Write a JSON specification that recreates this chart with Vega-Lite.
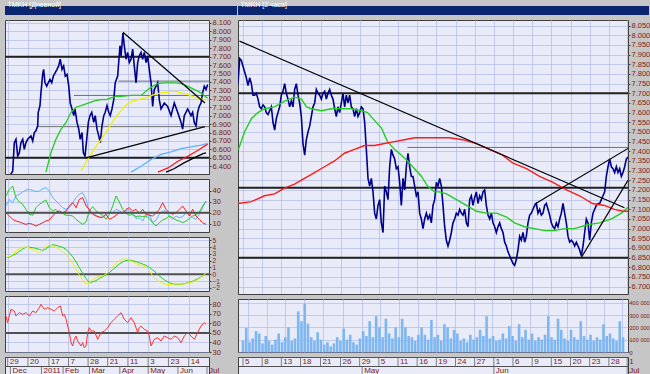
{
"$schema": "https://vega.github.io/schema/vega-lite/v6.json",
"background": "#c6c6c6",
"padding": {"left": 3, "top": 0, "right": 0, "bottom": 0},
"spacing": -1,
"config": {
 "font": "Liberation Sans",
 "view": {"fill": "#e9ecf8", "stroke": "#404040", "strokeWidth": 1},
 "axis": {"labelFont": "Liberation Sans", "labelFontSize": 7.5, "labelColor": "#802020", "gridColor": "#98a8e0", "gridDash": [1, 1], "gridOpacity": 1, "tickColor": "#404040", "tickSize": 2, "domain": false, "labelPadding": 1, "labelOverlap": false, "labelSeparation": -30, "labelBound": false, "labelFlush": false},
 "title": {"font": "Liberation Sans"}
},
"datasets": {
 "lp": [{"n":4,"v":6.3},{"n":5.7,"v":6.34},{"n":6.9,"v":6.68},{"n":8.1,"v":6.72},{"n":9.4,"v":6.52},{"n":10.6,"v":6.56},{"n":11.8,"v":6.68},{"n":13.1,"v":6.72},{"n":14.3,"v":6.6},{"n":15.5,"v":6.68},{"n":16.8,"v":6.72},{"n":19.2,"v":6.76},{"n":20.5,"v":6.7},{"n":21.7,"v":6.8},{"n":22.9,"v":6.82},{"n":24.2,"v":6.88},{"n":24.6,"v":7.04},{"n":25.9,"v":7.12},{"n":26.6,"v":7.27},{"n":27.9,"v":7.49},{"n":28.6,"v":7.55},{"n":29.6,"v":7.39},{"n":30.9,"v":7.35},{"n":32,"v":7.39},{"n":33.3,"v":7.43},{"n":34.6,"v":7.39},{"n":35.8,"v":7.47},{"n":37.2,"v":7.51},{"n":38.5,"v":7.55},{"n":39.7,"v":7.59},{"n":40.9,"v":7.67},{"n":42.2,"v":7.55},{"n":43.4,"v":7.59},{"n":44.6,"v":7.47},{"n":45.9,"v":7.49},{"n":47.2,"v":7.35},{"n":48.3,"v":7.15},{"n":49.6,"v":7.08},{"n":50.9,"v":7.0},{"n":51.8,"v":7.08},{"n":53.3,"v":6.92},{"n":54.6,"v":6.84},{"n":55.7,"v":6.72},{"n":57,"v":6.8},{"n":58,"v":6.56},{"n":59.2,"v":6.52},{"n":60.5,"v":6.72},{"n":61.7,"v":6.92},{"n":62.9,"v":7.0},{"n":64.2,"v":7.04},{"n":65.7,"v":6.92},{"n":66.8,"v":7.0},{"n":68.1,"v":6.84},{"n":69.4,"v":6.76},{"n":70.5,"v":6.68},{"n":71.8,"v":6.88},{"n":73.1,"v":7.0},{"n":74.2,"v":7.04},{"n":75.5,"v":7.12},{"n":76.8,"v":7.04},{"n":77.9,"v":7.0},{"n":79.2,"v":7.08},{"n":80.5,"v":7.19},{"n":81.6,"v":7.39},{"n":83.4,"v":7.47},{"n":85.1,"v":7.83},{"n":85.9,"v":7.71},{"n":87.3,"v":7.98},{"n":88.3,"v":7.83},{"n":89.6,"v":7.67},{"n":90.8,"v":7.75},{"n":92,"v":7.63},{"n":93.3,"v":7.67},{"n":94.5,"v":7.79},{"n":95.7,"v":7.59},{"n":97,"v":7.39},{"n":98.2,"v":7.63},{"n":99.4,"v":7.71},{"n":100.7,"v":7.75},{"n":101.9,"v":7.67},{"n":103.1,"v":7.75},{"n":104.4,"v":7.63},{"n":105.6,"v":7.71},{"n":106.8,"v":7.55},{"n":108.1,"v":7.39},{"n":109.3,"v":7.11},{"n":110.5,"v":7.31},{"n":111.8,"v":7.35},{"n":113,"v":7.39},{"n":114.2,"v":7.19},{"n":115.5,"v":7.08},{"n":117.9,"v":7.15},{"n":120.4,"v":7.11},{"n":122.9,"v":7.0},{"n":125.3,"v":7.15},{"n":127.8,"v":7.04},{"n":130.3,"v":6.92},{"n":131.5,"v":6.84},{"n":132.7,"v":7.0},{"n":135.2,"v":7.08},{"n":137.7,"v":7.0},{"n":138.9,"v":7.04},{"n":140.1,"v":6.92},{"n":141.4,"v":6.88},{"n":142.6,"v":7.04},{"n":143.8,"v":7.11},{"n":145.1,"v":7.15},{"n":146.3,"v":7.27},{"n":147.5,"v":7.35},{"n":148.8,"v":7.31},{"n":150,"v":7.37}],
 "lma": [{"s":"g","n":30.3,"v":6.33},{"s":"g","n":34,"v":6.56},{"s":"g","n":37.7,"v":6.72},{"s":"g","n":41.5,"v":6.84},{"s":"g","n":45.2,"v":6.92},{"s":"g","n":48.9,"v":7.04},{"s":"g","n":52.6,"v":7.1},{"s":"g","n":56.3,"v":7.12},{"s":"g","n":60,"v":7.14},{"s":"g","n":63.7,"v":7.16},{"s":"g","n":67.4,"v":7.18},{"s":"g","n":71.1,"v":7.19},{"s":"g","n":74.8,"v":7.19},{"s":"g","n":78.5,"v":7.21},{"s":"g","n":82.2,"v":7.23},{"s":"g","n":85.9,"v":7.23},{"s":"g","n":93.3,"v":7.24},{"s":"g","n":100.7,"v":7.24},{"s":"g","n":105.8,"v":7.31},{"s":"g","n":109.5,"v":7.35},{"s":"g","n":113.2,"v":7.38},{"s":"g","n":117.7,"v":7.39},{"s":"g","n":122.9,"v":7.39},{"s":"g","n":126.6,"v":7.39},{"s":"g","n":130.3,"v":7.38},{"s":"g","n":134,"v":7.36},{"s":"g","n":137.7,"v":7.33},{"s":"g","n":141.4,"v":7.3},{"s":"g","n":145.1,"v":7.27},{"s":"g","n":148.8,"v":7.22},{"s":"g","n":150,"v":7.21},
  {"s":"y","n":56.3,"v":6.34},{"s":"y","n":61.2,"v":6.48},{"s":"y","n":65.9,"v":6.6},{"s":"y","n":71.1,"v":6.72},{"s":"y","n":76.2,"v":6.84},{"s":"y","n":80.9,"v":6.96},{"s":"y","n":85.9,"v":7.06},{"s":"y","n":90.8,"v":7.14},{"s":"y","n":95.5,"v":7.18},{"s":"y","n":100.7,"v":7.2},{"s":"y","n":105.8,"v":7.22},{"s":"y","n":110.3,"v":7.25},{"s":"y","n":115.5,"v":7.27},{"s":"y","n":120.7,"v":7.28},{"s":"y","n":125.1,"v":7.29},{"s":"y","n":130.3,"v":7.27},{"s":"y","n":135.5,"v":7.25},{"s":"y","n":139.9,"v":7.22},{"s":"y","n":145.1,"v":7.2},{"s":"y","n":148.8,"v":7.19},{"s":"y","n":150,"v":7.19},
  {"s":"b","n":93.3,"v":6.33},{"s":"b","n":100.7,"v":6.4},{"s":"b","n":108.1,"v":6.48},{"s":"b","n":115.5,"v":6.54},{"s":"b","n":122.9,"v":6.57},{"s":"b","n":130.3,"v":6.61},{"s":"b","n":137.7,"v":6.63},{"s":"b","n":145.1,"v":6.65},{"s":"b","n":150,"v":6.67},
  {"s":"r","n":113.2,"v":6.33},{"s":"r","n":120.7,"v":6.38},{"s":"r","n":128,"v":6.46},{"s":"r","n":135.5,"v":6.52},{"s":"r","n":142.9,"v":6.59},{"s":"r","n":148.8,"v":6.65},{"s":"r","n":150,"v":6.66},
  {"s":"k","n":119.2,"v":6.33},{"s":"k","n":125.1,"v":6.37},{"s":"k","n":132.5,"v":6.44},{"s":"k","n":139.9,"v":6.5},{"s":"k","n":146.6,"v":6.55},{"s":"k","n":148.8,"v":6.56}],
 "ltl": [{"id":1,"n":87.3,"v":7.99},{"id":1,"n":148,"v":7.15},{"id":2,"n":60,"v":6.5},{"id":2,"n":148,"v":6.87}],
 "lhl": [{"a":84,"b":151,"v":7.41},{"a":51,"b":151,"v":7.24},{"a":24,"b":151,"v":6.87}],
 "lhk": [{"a":0,"b":151,"v":7.7},{"a":0,"b":151,"v":6.5}],
 "adx": [{"n":0.7,"b":26.2,"g":35.4,"r":20.1},{"n":3.2,"b":32.4,"g":41.5,"r":17.1},{"n":5.7,"b":29.3,"g":44.6,"r":14.0},{"n":8.1,"b":35.4,"g":33.9,"r":12.5},{"n":10.6,"b":37.0,"g":29.9,"r":11.6},{"n":13.1,"b":39.1,"g":27.8,"r":10.4},{"n":15.5,"b":40.9,"g":23.2,"r":9.4},{"n":18.0,"b":41.5,"g":18.6,"r":10.4},{"n":20.5,"b":40.6,"g":17.7,"r":9.4},{"n":22.9,"b":39.4,"g":24.7,"r":7.9},{"n":25.4,"b":40.0,"g":27.8,"r":9.4},{"n":27.9,"b":42.1,"g":29.9,"r":10.9},{"n":30.3,"b":43.1,"g":31.7,"r":12.5},{"n":32.8,"b":40.0,"g":24.7,"r":13.4},{"n":35.3,"b":33.9,"g":21.7,"r":17.1},{"n":37.8,"b":30.8,"g":23.2,"r":20.7},{"n":40.2,"b":27.8,"g":20.1,"r":21.7},{"n":42.7,"b":24.7,"g":19.5,"r":20.1},{"n":45.2,"b":23.2,"g":17.7,"r":21.7},{"n":47.6,"b":24.7,"g":17.7,"r":26.2},{"n":50.1,"b":29.3,"g":17.1,"r":29.3},{"n":52.6,"b":33.9,"g":14.0,"r":24.7},{"n":55.0,"b":37.0,"g":11.6,"r":32.4},{"n":57.5,"b":38.5,"g":9.4,"r":33.9},{"n":60.0,"b":32.4,"g":11.6,"r":26.2},{"n":62.4,"b":20.1,"g":21.7,"r":23.2},{"n":64.9,"b":20.1,"g":25.6,"r":18.6},{"n":67.4,"b":17.7,"g":21.7,"r":17.1},{"n":69.8,"b":15.5,"g":19.5,"r":16.2},{"n":72.3,"b":16.5,"g":17.7,"r":15.5},{"n":74.8,"b":18.6,"g":14.0,"r":18.6},{"n":77.2,"b":20.1,"g":18.6,"r":14.0},{"n":79.7,"b":20.1,"g":26.2,"r":15.5},{"n":82.2,"b":23.2,"g":35.4,"r":17.7},{"n":84.6,"b":21.7,"g":29.9,"r":20.1},{"n":87.1,"b":20.1,"g":23.2,"r":19.5},{"n":89.6,"b":21.7,"g":19.5,"r":23.2},{"n":92.0,"b":23.2,"g":17.7,"r":24.7},{"n":94.5,"b":18.6,"g":18.6,"r":21.7},{"n":97.0,"b":14.6,"g":16.5,"r":23.2},{"n":99.4,"b":15.5,"g":17.1,"r":19.5},{"n":101.9,"b":12.5,"g":16.5,"r":23.2},{"n":104.4,"b":18.6,"g":17.1,"r":18.6},{"n":106.8,"b":18.6,"g":14.6,"r":17.7},{"n":109.3,"b":10.9,"g":10.9,"r":17.1},{"n":111.8,"b":13.4,"g":7.9,"r":20.1},{"n":114.2,"b":18.6,"g":10.9,"r":23.2},{"n":116.7,"b":21.7,"g":13.4,"r":29.3},{"n":119.2,"b":21.7,"g":14.6,"r":23.2},{"n":121.6,"b":17.1,"g":17.1,"r":20.1},{"n":124.1,"b":14.0,"g":15.5,"r":18.6},{"n":126.6,"b":17.1,"g":13.4,"r":20.1},{"n":129.0,"b":15.5,"g":12.5,"r":23.2},{"n":131.5,"b":16.5,"g":10.9,"r":26.2},{"n":134.0,"b":20.1,"g":12.5,"r":21.7},{"n":136.4,"b":18.6,"g":14.6,"r":17.1},{"n":138.9,"b":15.5,"g":17.1,"r":23.2},{"n":141.4,"b":14.0,"g":17.7,"r":17.1},{"n":143.8,"b":18.6,"g":20.7,"r":14.0},{"n":146.3,"b":24.7,"g":26.2,"r":10.9},{"n":148.8,"b":30.8,"g":30.8,"r":9.4}],
 "macd": [{"n":0.7,"m":2.45,"s":2.45},{"n":3.2,"m":2.59,"s":2.5},{"n":5.7,"m":2.94,"s":2.79},{"n":8.1,"m":3.43,"s":2.99},{"n":10.6,"m":3.77,"s":3.38},{"n":13.1,"m":3.97,"s":3.72},{"n":15.5,"m":4.01,"s":3.97},{"n":18.0,"m":3.87,"s":3.97},{"n":20.5,"m":3.67,"s":3.92},{"n":22.9,"m":3.43,"s":3.82},{"n":25.4,"m":3.18,"s":3.67},{"n":27.9,"m":3.67,"s":3.48},{"n":30.3,"m":4.06,"s":3.77},{"n":32.8,"m":4.31,"s":4.11},{"n":35.3,"m":4.16,"s":4.36},{"n":37.8,"m":3.97,"s":4.26},{"n":40.2,"m":3.67,"s":4.11},{"n":42.7,"m":3.33,"s":3.97},{"n":45.2,"m":2.94,"s":3.67},{"n":47.6,"m":2.3,"s":3.18},{"n":50.1,"m":1.56,"s":2.59},{"n":52.6,"m":0.73,"s":1.81},{"n":55.0,"m":-0.1,"s":0.97},{"n":57.5,"m":-0.84,"s":0.14},{"n":60.0,"m":-1.48,"s":-0.64},{"n":62.4,"m":-1.13,"s":-1.18},{"n":64.9,"m":-0.84,"s":-1.13},{"n":67.4,"m":-0.5,"s":-0.94},{"n":69.8,"m":-0.3,"s":-0.64},{"n":72.3,"m":-0.25,"s":-0.35},{"n":74.8,"m":0.04,"s":-0.1},{"n":77.2,"m":0.49,"s":0.24},{"n":79.7,"m":1.12,"s":0.68},{"n":82.2,"m":1.61,"s":1.12},{"n":84.6,"m":1.96,"s":1.51},{"n":87.1,"m":2.21,"s":1.81},{"n":89.6,"m":2.25,"s":2.01},{"n":92.0,"m":2.11,"s":2.11},{"n":94.5,"m":1.81,"s":2.01},{"n":97.0,"m":1.56,"s":1.86},{"n":99.4,"m":1.37,"s":1.71},{"n":101.9,"m":1.22,"s":1.51},{"n":104.4,"m":1.07,"s":1.32},{"n":106.8,"m":0.58,"s":1.02},{"n":109.3,"m":-0.25,"s":0.63},{"n":111.8,"m":-0.74,"s":0.24},{"n":114.2,"m":-1.08,"s":-0.25},{"n":116.7,"m":-1.33,"s":-0.64},{"n":119.2,"m":-1.52,"s":-0.99},{"n":121.6,"m":-1.57,"s":-1.23},{"n":124.1,"m":-1.48,"s":-1.43},{"n":126.6,"m":-1.43,"s":-1.48},{"n":129.0,"m":-1.43,"s":-1.48},{"n":131.5,"m":-1.48,"s":-1.43},{"n":134.0,"m":-1.38,"s":-1.33},{"n":136.4,"m":-1.23,"s":-1.18},{"n":138.9,"m":-1.13,"s":-1.03},{"n":141.4,"m":-0.94,"s":-0.79},{"n":143.8,"m":-0.64,"s":-0.54},{"n":146.3,"m":-0.25,"s":-0.25},{"n":148.8,"m":0.24,"s":0.04}],
 "rsi": [{"n":0.7,"v":67.9},{"n":2,"v":60.9},{"n":4.4,"v":74.9},{"n":6.9,"v":73.1},{"n":8.1,"v":67.9},{"n":10.6,"v":71.4},{"n":13.1,"v":69.6},{"n":15.5,"v":71.4},{"n":18,"v":67.9},{"n":20.5,"v":73.1},{"n":22.9,"v":71.4},{"n":25.4,"v":76.6},{"n":26.6,"v":80.2},{"n":29.1,"v":74.9},{"n":31.6,"v":76.6},{"n":34,"v":74.9},{"n":36.5,"v":73.1},{"n":39,"v":76.6},{"n":41,"v":78.4},{"n":42.7,"v":67.9},{"n":43.9,"v":69.6},{"n":45.2,"v":64.4},{"n":46.4,"v":57.4},{"n":47.6,"v":50.4},{"n":48.9,"v":39.8},{"n":50.1,"v":36.3},{"n":51.3,"v":43.3},{"n":52.6,"v":46.8},{"n":53.8,"v":41.6},{"n":56.3,"v":36.3},{"n":57.5,"v":39.8},{"n":58.7,"v":34.5},{"n":60,"v":36.3},{"n":61.2,"v":50.4},{"n":62.4,"v":55.6},{"n":63.7,"v":52.1},{"n":66.1,"v":52.1},{"n":68.6,"v":43.3},{"n":71.1,"v":50.4},{"n":73.5,"v":52.1},{"n":76,"v":55.6},{"n":78.5,"v":60.9},{"n":80.9,"v":64.4},{"n":83.4,"v":67.9},{"n":85.9,"v":71.4},{"n":87.1,"v":67.9},{"n":88.3,"v":64.4},{"n":90.8,"v":60.9},{"n":93.3,"v":66.1},{"n":95.7,"v":60.9},{"n":98.2,"v":50.4},{"n":99.4,"v":55.6},{"n":100.7,"v":57.4},{"n":103.1,"v":53.9},{"n":105.6,"v":52.1},{"n":106.8,"v":46.8},{"n":108.1,"v":36.3},{"n":110.5,"v":43.3},{"n":113,"v":45.1},{"n":115.5,"v":41.6},{"n":117.9,"v":46.8},{"n":120.4,"v":45.1},{"n":122.9,"v":43.3},{"n":125.3,"v":46.8},{"n":127.8,"v":45.1},{"n":130.3,"v":39.8},{"n":132.7,"v":46.8},{"n":135.2,"v":50.4},{"n":137.7,"v":46.8},{"n":140.1,"v":43.3},{"n":142.6,"v":50.4},{"n":145.1,"v":57.4},{"n":147.5,"v":60.9},{"n":148.8,"v":59.1}],
 "ldt": [{"n":2,"r":"d","t":"29"},{"n":17,"r":"d","t":"20"},{"n":32.5,"r":"d","t":"17"},{"n":47,"r":"d","t":"7"},{"n":61.5,"r":"d","t":"28"},{"n":76,"r":"d","t":"21"},{"n":91,"r":"d","t":"11"},{"n":106,"r":"d","t":"3"},{"n":121,"r":"d","t":"23"},{"n":136,"r":"d","t":"14"},{"n":4,"r":"m","t":"Dec"},{"n":27,"r":"m","t":"2011"},{"n":43,"r":"m","t":"Feb"},{"n":62.5,"r":"m","t":"Mar"},{"n":85,"r":"m","t":"Apr"},{"n":106,"r":"m","t":"May"},{"n":128,"r":"m","t":"Jun"},{"n":149.5,"r":"m","t":"Jul"}],
 "rp": [{"k":0,"v":7.75},{"k":1,"v":7.88},{"k":2,"v":7.87},{"k":3,"v":7.84},{"k":4,"v":7.81},{"k":5,"v":7.78},{"k":6,"v":7.74},{"k":7,"v":7.78},{"k":8,"v":7.75},{"k":9,"v":7.69},{"k":10,"v":7.69},{"k":11,"v":7.7},{"k":12,"v":7.67},{"k":13,"v":7.63},{"k":14,"v":7.62},{"k":15,"v":7.64},{"k":16,"v":7.63},{"k":17,"v":7.6},{"k":18,"v":7.59},{"k":19,"v":7.61},{"k":20,"v":7.63},{"k":21,"v":7.55},{"k":22,"v":7.51},{"k":23,"v":7.57},{"k":24,"v":7.6},{"k":25,"v":7.63},{"k":26,"v":7.69},{"k":27,"v":7.71},{"k":28,"v":7.75},{"k":29,"v":7.7},{"k":30,"v":7.67},{"k":31,"v":7.63},{"k":32,"v":7.66},{"k":33,"v":7.63},{"k":34,"v":7.72},{"k":35,"v":7.75},{"k":36,"v":7.69},{"k":37,"v":7.65},{"k":38,"v":7.58},{"k":39,"v":7.44},{"k":40,"v":7.38},{"k":41,"v":7.46},{"k":42,"v":7.5},{"k":43,"v":7.53},{"k":44,"v":7.58},{"k":45,"v":7.63},{"k":46,"v":7.65},{"k":47,"v":7.72},{"k":48,"v":7.7},{"k":49,"v":7.69},{"k":50,"v":7.67},{"k":51,"v":7.7},{"k":52,"v":7.71},{"k":53,"v":7.67},{"k":54,"v":7.7},{"k":55,"v":7.72},{"k":56,"v":7.69},{"k":57,"v":7.67},{"k":58,"v":7.62},{"k":59,"v":7.58},{"k":60,"v":7.63},{"k":61,"v":7.6},{"k":62,"v":7.65},{"k":63,"v":7.7},{"k":64,"v":7.63},{"k":65,"v":7.69},{"k":66,"v":7.65},{"k":67,"v":7.69},{"k":68,"v":7.63},{"k":69,"v":7.62},{"k":70,"v":7.58},{"k":71,"v":7.62},{"k":72,"v":7.58},{"k":73,"v":7.6},{"k":74,"v":7.63},{"k":75,"v":7.62},{"k":76,"v":7.55},{"k":77,"v":7.41},{"k":78,"v":7.26},{"k":79,"v":7.22},{"k":80,"v":7.26},{"k":81,"v":7.19},{"k":82,"v":7.08},{"k":83,"v":7.05},{"k":84,"v":7.12},{"k":85,"v":7.15},{"k":86,"v":7.03},{"k":87,"v":6.98},{"k":88,"v":7.22},{"k":89,"v":7.19},{"k":90,"v":7.15},{"k":91,"v":7.32},{"k":92,"v":7.41},{"k":93,"v":7.38},{"k":94,"v":7.36},{"k":95,"v":7.31},{"k":96,"v":7.32},{"k":97,"v":7.24},{"k":98,"v":7.12},{"k":99,"v":7.26},{"k":100,"v":7.2},{"k":101,"v":7.32},{"k":102,"v":7.39},{"k":103,"v":7.32},{"k":104,"v":7.27},{"k":105,"v":7.27},{"k":106,"v":7.22},{"k":107,"v":7.17},{"k":108,"v":7.19},{"k":109,"v":7.08},{"k":110,"v":7.05},{"k":111,"v":7.0},{"k":112,"v":7.05},{"k":113,"v":7.08},{"k":114,"v":7.05},{"k":115,"v":7.07},{"k":116,"v":7.03},{"k":117,"v":7.12},{"k":118,"v":7.15},{"k":119,"v":7.24},{"k":120,"v":7.22},{"k":121,"v":7.26},{"k":122,"v":7.22},{"k":123,"v":7.12},{"k":124,"v":7.01},{"k":125,"v":6.94},{"k":126,"v":6.91},{"k":127,"v":6.94},{"k":128,"v":6.98},{"k":129,"v":7.03},{"k":130,"v":7.05},{"k":131,"v":7.08},{"k":132,"v":7.07},{"k":133,"v":7.1},{"k":134,"v":7.08},{"k":135,"v":7.07},{"k":136,"v":7.1},{"k":137,"v":7.03},{"k":138,"v":7.01},{"k":139,"v":7.15},{"k":140,"v":7.17},{"k":141,"v":7.12},{"k":142,"v":7.16},{"k":143,"v":7.19},{"k":144,"v":7.13},{"k":145,"v":7.17},{"k":146,"v":7.15},{"k":147,"v":7.19},{"k":148,"v":7.2},{"k":149,"v":7.12},{"k":150,"v":7.07},{"k":151,"v":7.05},{"k":152,"v":7.08},{"k":153,"v":7.03},{"k":154,"v":7.01},{"k":155,"v":6.98},{"k":156,"v":7.01},{"k":157,"v":7.03},{"k":158,"v":7.0},{"k":159,"v":6.98},{"k":160,"v":6.93},{"k":161,"v":6.91},{"k":162,"v":6.88},{"k":163,"v":6.86},{"k":164,"v":6.84},{"k":165,"v":6.82},{"k":166,"v":6.81},{"k":167,"v":6.84},{"k":168,"v":6.89},{"k":169,"v":6.96},{"k":170,"v":6.94},{"k":171,"v":6.98},{"k":172,"v":6.93},{"k":173,"v":6.96},{"k":174,"v":7.03},{"k":175,"v":7.07},{"k":176,"v":7.08},{"k":177,"v":7.1},{"k":178,"v":7.12},{"k":179,"v":7.13},{"k":180,"v":7.08},{"k":181,"v":7.1},{"k":182,"v":7.07},{"k":183,"v":7.08},{"k":184,"v":7.12},{"k":185,"v":7.13},{"k":186,"v":7.1},{"k":187,"v":7.07},{"k":188,"v":7.03},{"k":189,"v":7.01},{"k":190,"v":7.0},{"k":191,"v":7.03},{"k":192,"v":7.01},{"k":193,"v":7.05},{"k":194,"v":7.08},{"k":195,"v":7.13},{"k":196,"v":7.08},{"k":197,"v":7.03},{"k":198,"v":6.96},{"k":199,"v":6.93},{"k":200,"v":6.94},{"k":201,"v":6.93},{"k":202,"v":6.91},{"k":203,"v":6.93},{"k":204,"v":6.91},{"k":205,"v":6.89},{"k":206,"v":6.86},{"k":207,"v":6.91},{"k":208,"v":6.98},{"k":209,"v":7.05},{"k":210,"v":7.03},{"k":211,"v":6.94},{"k":212,"v":7.03},{"k":213,"v":7.08},{"k":214,"v":7.1},{"k":215,"v":7.12},{"k":216,"v":7.13},{"k":217,"v":7.13},{"k":218,"v":7.15},{"k":219,"v":7.17},{"k":220,"v":7.19},{"k":221,"v":7.27},{"k":222,"v":7.32},{"k":223,"v":7.36},{"k":224,"v":7.32},{"k":225,"v":7.31},{"k":226,"v":7.29},{"k":227,"v":7.32},{"k":228,"v":7.29},{"k":229,"v":7.31},{"k":230,"v":7.27},{"k":231,"v":7.29},{"k":232,"v":7.32},{"k":233,"v":7.36},{"k":234,"v":7.37}],
 "rma": [{"s":"g","k":0.3,"v":7.41},{"s":"g","k":3.9,"v":7.5},{"s":"g","k":8.1,"v":7.57},{"s":"g","k":11.9,"v":7.6},{"s":"g","k":15.9,"v":7.62},{"s":"g","k":21.9,"v":7.63},{"s":"g","k":27.9,"v":7.66},{"s":"g","k":33.9,"v":7.68},{"s":"g","k":38.1,"v":7.67},{"s":"g","k":41.1,"v":7.63},{"s":"g","k":44.1,"v":7.62},{"s":"g","k":50.1,"v":7.61},{"s":"g","k":56.1,"v":7.62},{"s":"g","k":62.1,"v":7.62},{"s":"g","k":68.1,"v":7.62},{"s":"g","k":74.1,"v":7.61},{"s":"g","k":77.7,"v":7.6},{"s":"g","k":81.9,"v":7.56},{"s":"g","k":86.1,"v":7.52},{"s":"g","k":89.7,"v":7.45},{"s":"g","k":93.9,"v":7.41},{"s":"g","k":98.1,"v":7.38},{"s":"g","k":101.7,"v":7.35},{"s":"g","k":105.9,"v":7.31},{"s":"g","k":110.1,"v":7.27},{"s":"g","k":113.7,"v":7.22},{"s":"g","k":117.9,"v":7.19},{"s":"g","k":120.9,"v":7.19},{"s":"g","k":125.1,"v":7.18},{"s":"g","k":131.1,"v":7.15},{"s":"g","k":137.1,"v":7.12},{"s":"g","k":143.1,"v":7.09},{"s":"g","k":149.1,"v":7.08},{"s":"g","k":155.1,"v":7.08},{"s":"g","k":161.1,"v":7.06},{"s":"g","k":165.9,"v":7.03},{"s":"g","k":171.9,"v":7.01},{"s":"g","k":177.9,"v":7.0},{"s":"g","k":183.9,"v":6.99},{"s":"g","k":189.9,"v":6.99},{"s":"g","k":195.9,"v":7.0},{"s":"g","k":201.9,"v":7.0},{"s":"g","k":209.7,"v":7.02},{"s":"g","k":216.9,"v":7.03},{"s":"g","k":224.1,"v":7.05},{"s":"g","k":230.1,"v":7.08},{"s":"g","k":234,"v":7.11},
  {"s":"r","k":0,"v":7.13},{"s":"r","k":8.1,"v":7.14},{"s":"r","k":15.9,"v":7.17},{"s":"r","k":21.9,"v":7.18},{"s":"r","k":27.9,"v":7.21},{"s":"r","k":33.9,"v":7.23},{"s":"r","k":39.9,"v":7.26},{"s":"r","k":45.9,"v":7.29},{"s":"r","k":51.9,"v":7.32},{"s":"r","k":57.9,"v":7.35},{"s":"r","k":63.9,"v":7.39},{"s":"r","k":69.9,"v":7.41},{"s":"r","k":75.9,"v":7.43},{"s":"r","k":81.9,"v":7.43},{"s":"r","k":87.9,"v":7.44},{"s":"r","k":93.9,"v":7.45},{"s":"r","k":99.9,"v":7.46},{"s":"r","k":105.9,"v":7.47},{"s":"r","k":111.9,"v":7.47},{"s":"r","k":119.1,"v":7.47},{"s":"r","k":126.9,"v":7.47},{"s":"r","k":134.7,"v":7.46},{"s":"r","k":143.1,"v":7.44},{"s":"r","k":150.9,"v":7.41},{"s":"r","k":158.7,"v":7.38},{"s":"r","k":164.7,"v":7.34},{"s":"r","k":173.1,"v":7.31},{"s":"r","k":180.9,"v":7.27},{"s":"r","k":188.7,"v":7.24},{"s":"r","k":197.1,"v":7.2},{"s":"r","k":204.9,"v":7.17},{"s":"r","k":212.7,"v":7.13},{"s":"r","k":219.9,"v":7.12},{"s":"r","k":225.9,"v":7.1},{"s":"r","k":230.7,"v":7.09},{"s":"r","k":234,"v":7.09}],
 "rtl": [{"id":1,"k":0.9,"v":7.97},{"id":1,"k":231.9,"v":7.108},{"id":2,"k":177.9,"v":7.126},{"id":2,"k":234,"v":7.415},{"id":3,"k":205.9,"v":6.85},{"id":3,"k":234,"v":7.25}],
 "rhl": [{"a":101.7,"b":234,"v":7.42}],
 "rhk": [{"a":0,"b":234,"v":7.7},{"a":0,"b":234,"v":7.212},{"a":0,"b":234,"v":6.85}],
 "rv": [{"k":0,"v":90},{"k":2,"v":195},{"k":4,"v":80},{"k":6,"v":110},{"k":8,"v":170},{"k":10,"v":150},{"k":12,"v":70},{"k":14,"v":130},{"k":16,"v":90},{"k":18,"v":60},{"k":20,"v":100},{"k":22,"v":150},{"k":24,"v":80},{"k":26,"v":120},{"k":28,"v":200},{"k":30,"v":90},{"k":32,"v":110},{"k":34,"v":330},{"k":36,"v":250},{"k":38,"v":390},{"k":40,"v":230},{"k":42,"v":120},{"k":44,"v":90},{"k":46,"v":160},{"k":48,"v":100},{"k":50,"v":60},{"k":52,"v":80},{"k":54,"v":45},{"k":56,"v":70},{"k":58,"v":120},{"k":60,"v":90},{"k":62,"v":190},{"k":64,"v":100},{"k":66,"v":140},{"k":68,"v":80},{"k":70,"v":60},{"k":72,"v":110},{"k":74,"v":170},{"k":76,"v":130},{"k":78,"v":250},{"k":80,"v":120},{"k":82,"v":290},{"k":84,"v":200},{"k":86,"v":120},{"k":88,"v":270},{"k":90,"v":150},{"k":92,"v":110},{"k":94,"v":200},{"k":96,"v":120},{"k":98,"v":270},{"k":100,"v":200},{"k":102,"v":130},{"k":104,"v":120},{"k":106,"v":90},{"k":108,"v":140},{"k":110,"v":200},{"k":112,"v":140},{"k":114,"v":100},{"k":116,"v":260},{"k":118,"v":120},{"k":120,"v":140},{"k":122,"v":90},{"k":124,"v":225},{"k":126,"v":200},{"k":128,"v":110},{"k":130,"v":180},{"k":132,"v":150},{"k":134,"v":90},{"k":136,"v":110},{"k":138,"v":80},{"k":140,"v":140},{"k":142,"v":100},{"k":144,"v":120},{"k":146,"v":180},{"k":148,"v":130},{"k":150,"v":290},{"k":152,"v":110},{"k":154,"v":130},{"k":156,"v":90},{"k":158,"v":100},{"k":160,"v":150},{"k":162,"v":110},{"k":164,"v":210},{"k":166,"v":130},{"k":168,"v":90},{"k":170,"v":225},{"k":172,"v":120},{"k":174,"v":180},{"k":176,"v":100},{"k":178,"v":150},{"k":180,"v":90},{"k":182,"v":120},{"k":184,"v":100},{"k":186,"v":140},{"k":188,"v":290},{"k":190,"v":120},{"k":192,"v":100},{"k":194,"v":270},{"k":196,"v":180},{"k":198,"v":110},{"k":200,"v":90},{"k":202,"v":180},{"k":204,"v":120},{"k":206,"v":100},{"k":208,"v":250},{"k":210,"v":130},{"k":212,"v":100},{"k":214,"v":140},{"k":216,"v":90},{"k":218,"v":120},{"k":220,"v":100},{"k":222,"v":225},{"k":224,"v":130},{"k":226,"v":150},{"k":228,"v":110},{"k":230,"v":90},{"k":232,"v":250},{"k":234,"v":120}],
 "rdt": [{"k":3,"r":"d","t":"5"},{"k":14.5,"r":"d","t":"8"},{"k":26,"r":"d","t":"13"},{"k":37.5,"r":"d","t":"18"},{"k":49.5,"r":"d","t":"21"},{"k":61.5,"r":"d","t":"26"},{"k":73,"r":"d","t":"29"},{"k":84.5,"r":"d","t":"5"},{"k":96,"r":"d","t":"11"},{"k":107.5,"r":"d","t":"16"},{"k":119,"r":"d","t":"19"},{"k":130.5,"r":"d","t":"24"},{"k":142,"r":"d","t":"27"},{"k":153.5,"r":"d","t":"1"},{"k":165,"r":"d","t":"6"},{"k":176.5,"r":"d","t":"9"},{"k":188,"r":"d","t":"15"},{"k":199.5,"r":"d","t":"20"},{"k":211,"r":"d","t":"23"},{"k":222.5,"r":"d","t":"28"},{"k":233.5,"r":"d","t":"1"},{"k":74.5,"r":"m","t":"May"},{"k":153.5,"r":"m","t":"Jun"},{"k":233.5,"r":"m","t":"Jul"}]
},
"hconcat": [
 {"bounds": "flush", "spacing": 5, "vconcat": [
  {"width": 232, "height": 9, "data": {"values": [{}]}, "view": {"fill": "#0b2470", "stroke": null},
   "mark": {"type": "rule", "opacity": 0}, "encoding": {},
   "title": {"text": "TMKH [Дневной]", "anchor": "start", "orient": "top", "offset": -8, "baseline": "alphabetic", "fontSize": 7, "color": "#ffffff", "fontWeight": "normal", "dx": 3}},
  {"width": 204, "height": 154, "layer": [
   {"data": {"name": "lhl"}, "mark": {"type": "rule", "color": "#707070", "strokeWidth": 1},
    "encoding": {"x": {"field": "a", "type": "quantitative", "scale": {"domain": [0, 151], "nice": false, "zero": false}, "title": null, "axis": {"values": [2,17,32.5,47,61.5,76,91,106,121,136], "labels": false, "ticks": false, "domain": false, "grid": true}}, "x2": {"field": "b"},
     "y": {"field": "v", "type": "quantitative", "scale": {"domain": [6.308, 8.135], "nice": false, "zero": false}, "title": null, "axis": {"orient": "right", "values": [6.4,6.5,6.6,6.7,6.8,6.9,7,7.1,7.2,7.3,7.4,7.5,7.6,7.7,7.8,7.9,8,8.1], "format": ".3f", "grid": true, "labelOverlap": false, "labelSeparation": -30}}}},
   {"data": {"name": "lhk"}, "mark": {"type": "rule", "color": "#202020", "strokeWidth": 2},
    "encoding": {"x": {"field": "a", "type": "quantitative", "scale": {"domain": [0, 151], "nice": false, "zero": false}, "title": null, "axis": {"values": [2,17,32.5,47,61.5,76,91,106,121,136], "labels": false, "ticks": false, "domain": false, "grid": true}}, "x2": {"field": "b"},
     "y": {"field": "v", "type": "quantitative", "scale": {"domain": [6.308, 8.135], "nice": false, "zero": false}, "title": null, "axis": {"orient": "right", "values": [6.4,6.5,6.6,6.7,6.8,6.9,7,7.1,7.2,7.3,7.4,7.5,7.6,7.7,7.8,7.9,8,8.1], "format": ".3f", "grid": true, "labelOverlap": false, "labelSeparation": -30}}}},
   {"data": {"name": "lp"}, "mark": {"type": "line", "color": "#00008b", "strokeWidth": 1.6, "clip": true},
    "encoding": {"x": {"field": "n", "type": "quantitative", "scale": {"domain": [0, 151], "nice": false, "zero": false}, "title": null, "axis": {"values": [2,17,32.5,47,61.5,76,91,106,121,136], "labels": false, "ticks": false, "domain": false, "grid": true}},
     "y": {"field": "v", "type": "quantitative", "scale": {"domain": [6.308, 8.135], "nice": false, "zero": false}, "title": null, "axis": {"orient": "right", "values": [6.4,6.5,6.6,6.7,6.8,6.9,7,7.1,7.2,7.3,7.4,7.5,7.6,7.7,7.8,7.9,8,8.1], "format": ".3f", "grid": true, "labelOverlap": false, "labelSeparation": -30}}}},
   {"data": {"name": "lma"}, "mark": {"type": "line", "strokeWidth": 1.3, "clip": true},
    "encoding": {"x": {"field": "n", "type": "quantitative", "scale": {"domain": [0, 151], "nice": false, "zero": false}, "title": null, "axis": {"values": [2,17,32.5,47,61.5,76,91,106,121,136], "labels": false, "ticks": false, "domain": false, "grid": true}},
     "y": {"field": "v", "type": "quantitative", "scale": {"domain": [6.308, 8.135], "nice": false, "zero": false}, "title": null, "axis": {"orient": "right", "values": [6.4,6.5,6.6,6.7,6.8,6.9,7,7.1,7.2,7.3,7.4,7.5,7.6,7.7,7.8,7.9,8,8.1], "format": ".3f", "grid": true, "labelOverlap": false, "labelSeparation": -30}},
     "color": {"field": "s", "type": "nominal", "scale": {"domain": ["g","y","b","r","k"], "range": ["#22cc22","#f0f000","#5fb0ff","#ff1a1a","#000000"]}, "legend": null}}},
   {"data": {"name": "ltl"}, "mark": {"type": "line", "color": "#000000", "strokeWidth": 1.2, "clip": true},
    "encoding": {"x": {"field": "n", "type": "quantitative", "scale": {"domain": [0, 151], "nice": false, "zero": false}, "title": null, "axis": {"values": [2,17,32.5,47,61.5,76,91,106,121,136], "labels": false, "ticks": false, "domain": false, "grid": true}},
     "y": {"field": "v", "type": "quantitative", "scale": {"domain": [6.308, 8.135], "nice": false, "zero": false}, "title": null, "axis": {"orient": "right", "values": [6.4,6.5,6.6,6.7,6.8,6.9,7,7.1,7.2,7.3,7.4,7.5,7.6,7.7,7.8,7.9,8,8.1], "format": ".3f", "grid": true, "labelOverlap": false, "labelSeparation": -30}},
     "detail": {"field": "id", "type": "nominal"}}}
  ]},
  {"width": 204, "height": 53, "layer": [
   {"data": {"name": "adx"}, "transform": [{"fold": ["b","g","r"], "as": ["s","v"]}], "mark": {"type": "line", "strokeWidth": 1, "clip": true},
    "encoding": {"x": {"field": "n", "type": "quantitative", "scale": {"domain": [0, 151], "nice": false, "zero": false}, "title": null, "axis": {"values": [2,17,32.5,47,61.5,76,91,106,121,136], "labels": false, "ticks": false, "domain": false, "grid": true}},
     "y": {"field": "v", "type": "quantitative", "scale": {"domain": [2.4, 51], "nice": false, "zero": false}, "title": null, "axis": {"orient": "right", "values": [10,20,30,40], "grid": true, "labelOverlap": false, "labelSeparation": -30}},
     "color": {"field": "s", "type": "nominal", "scale": {"domain": ["b","g","r"], "range": ["#3030ff","#2e8b2e","#ff3030"]}, "legend": null}}},
   {"data": {"values": [{"v": 20}]}, "mark": {"type": "rule", "color": "#505050", "strokeWidth": 2},
    "encoding": {"y": {"field": "v", "type": "quantitative", "scale": {"domain": [2.4, 51], "nice": false, "zero": false}, "title": null, "axis": {"orient": "right", "values": [10,20,30,40], "grid": true, "labelOverlap": false, "labelSeparation": -30}}}}
  ]},
  {"width": 204, "height": 54, "layer": [
   {"data": {"values": [{"v": 0}]}, "mark": {"type": "rule", "color": "#505050", "strokeWidth": 2},
    "encoding": {"y": {"field": "v", "type": "quantitative", "scale": {"domain": [-2.47, 5.49], "nice": false, "zero": false}, "title": null, "axis": {"orient": "right", "values": [-2,-1,0,1,2,3,4,5], "grid": true, "labelOverlap": false, "labelSeparation": -30, "labelFontSize": 6.5}}}},
   {"data": {"name": "macd"}, "transform": [{"fold": ["s","m"], "as": ["c","v"]}], "mark": {"type": "line", "strokeWidth": 1, "clip": true},
    "encoding": {"x": {"field": "n", "type": "quantitative", "scale": {"domain": [0, 151], "nice": false, "zero": false}, "title": null, "axis": {"values": [2,17,32.5,47,61.5,76,91,106,121,136], "labels": false, "ticks": false, "domain": false, "grid": true}},
     "y": {"field": "v", "type": "quantitative", "scale": {"domain": [-2.47, 5.49], "nice": false, "zero": false}, "title": null, "axis": {"orient": "right", "values": [-2,-1,0,1,2,3,4,5], "grid": true, "labelOverlap": false, "labelSeparation": -30, "labelFontSize": 6.5}},
     "color": {"field": "c", "type": "nominal", "scale": {"domain": ["s","m"], "range": ["#5aa0ff","#ff3a3a"]}, "legend": null}}}
  ]},
  {"width": 204, "height": 56, "layer": [
   {"data": {"values": [{"v": 50}]}, "mark": {"type": "rule", "color": "#505050", "strokeWidth": 2},
    "encoding": {"y": {"field": "v", "type": "quantitative", "scale": {"domain": [30, 88.9], "nice": false, "zero": false}, "title": null, "axis": {"orient": "right", "values": [30,40,50,60,70,80], "grid": true, "labelOverlap": false, "labelSeparation": -30}}}},
   {"data": {"name": "rsi"}, "mark": {"type": "line", "color": "#ff3030", "strokeWidth": 1, "clip": true},
    "encoding": {"x": {"field": "n", "type": "quantitative", "scale": {"domain": [0, 151], "nice": false, "zero": false}, "title": null, "axis": {"values": [2,17,32.5,47,61.5,76,91,106,121,136], "labels": false, "ticks": false, "domain": false, "grid": true}},
     "y": {"field": "v", "type": "quantitative", "scale": {"domain": [30, 88.9], "nice": false, "zero": false}, "title": null, "axis": {"orient": "right", "values": [30,40,50,60,70,80], "grid": true, "labelOverlap": false, "labelSeparation": -30}}}}
  ]},
  {"width": 204, "height": 18, "data": {"name": "ldt"}, "layer": [
   {"mark": {"type": "tick", "orient": "vertical", "color": "#505050", "thickness": 1, "size": 9},
    "encoding": {"x": {"field": "n", "type": "quantitative", "scale": {"domain": [0, 151], "nice": false, "zero": false}, "axis": null},
     "y": {"field": "r", "type": "nominal", "scale": {"type": "band", "domain": ["d","m"], "paddingInner": 0, "paddingOuter": 0}, "axis": {"grid": true, "gridColor": "#505050", "gridDash": [], "labels": false, "ticks": false, "domain": false, "title": null, "bandPosition": 0}}}},
   {"mark": {"type": "text", "align": "left", "baseline": "middle", "dx": 2, "fontSize": 8, "color": "#802020"},
    "encoding": {"x": {"field": "n", "type": "quantitative", "scale": {"domain": [0, 151], "nice": false, "zero": false}, "axis": null},
     "y": {"field": "r", "type": "nominal", "scale": {"type": "band", "domain": ["d","m"], "paddingInner": 0, "paddingOuter": 0}},
     "text": {"field": "t"}}}
  ]}
 ]},
 {"bounds": "flush", "spacing": 5, "vconcat": [
  {"width": 411, "height": 9, "data": {"values": [{}]}, "view": {"fill": "#0b2470", "stroke": null},
   "mark": {"type": "rule", "opacity": 0}, "encoding": {},
   "title": {"text": "TMKH [2 часа]", "anchor": "start", "orient": "top", "offset": -8, "baseline": "alphabetic", "fontSize": 7, "color": "#ffffff", "fontWeight": "normal", "dx": 3}},
  {"width": 390, "height": 274, "layer": [
   {"data": {"name": "rhl"}, "mark": {"type": "rule", "color": "#707070", "strokeWidth": 1},
    "encoding": {"x": {"field": "a", "type": "quantitative", "scale": {"domain": [0, 234], "nice": false, "zero": false}, "title": null, "axis": {"values": [3,14.5,26,37.5,49.5,61.5,73,84.5,96,107.5,119,130.5,142,153.5,165,176.5,188,199.5,211,222.5,233.5], "labels": false, "ticks": false, "domain": false, "grid": true}}, "x2": {"field": "b"},
     "y": {"field": "v", "type": "quantitative", "scale": {"domain": [6.662, 8.079], "nice": false, "zero": false}, "title": null, "axis": {"orient": "right", "values": [6.7,6.75,6.8,6.85,6.9,6.95,7,7.05,7.1,7.15,7.2,7.25,7.3,7.35,7.4,7.45,7.5,7.55,7.6,7.65,7.7,7.75,7.8,7.85,7.9,7.95,8,8.05], "format": ".3f", "grid": true, "labelOverlap": false, "labelSeparation": -30}}}},
   {"data": {"name": "rhk"}, "mark": {"type": "rule", "color": "#202020", "strokeWidth": 2},
    "encoding": {"x": {"field": "a", "type": "quantitative", "scale": {"domain": [0, 234], "nice": false, "zero": false}, "title": null, "axis": {"values": [3,14.5,26,37.5,49.5,61.5,73,84.5,96,107.5,119,130.5,142,153.5,165,176.5,188,199.5,211,222.5,233.5], "labels": false, "ticks": false, "domain": false, "grid": true}}, "x2": {"field": "b"},
     "y": {"field": "v", "type": "quantitative", "scale": {"domain": [6.662, 8.079], "nice": false, "zero": false}, "title": null, "axis": {"orient": "right", "values": [6.7,6.75,6.8,6.85,6.9,6.95,7,7.05,7.1,7.15,7.2,7.25,7.3,7.35,7.4,7.45,7.5,7.55,7.6,7.65,7.7,7.75,7.8,7.85,7.9,7.95,8,8.05], "format": ".3f", "grid": true, "labelOverlap": false, "labelSeparation": -30}}}},
   {"data": {"name": "rp"}, "mark": {"type": "line", "color": "#00008b", "strokeWidth": 1.6, "clip": true},
    "encoding": {"x": {"field": "k", "type": "quantitative", "scale": {"domain": [0, 234], "nice": false, "zero": false}, "title": null, "axis": {"values": [3,14.5,26,37.5,49.5,61.5,73,84.5,96,107.5,119,130.5,142,153.5,165,176.5,188,199.5,211,222.5,233.5], "labels": false, "ticks": false, "domain": false, "grid": true}},
     "y": {"field": "v", "type": "quantitative", "scale": {"domain": [6.662, 8.079], "nice": false, "zero": false}, "title": null, "axis": {"orient": "right", "values": [6.7,6.75,6.8,6.85,6.9,6.95,7,7.05,7.1,7.15,7.2,7.25,7.3,7.35,7.4,7.45,7.5,7.55,7.6,7.65,7.7,7.75,7.8,7.85,7.9,7.95,8,8.05], "format": ".3f", "grid": true, "labelOverlap": false, "labelSeparation": -30}}}},
   {"data": {"name": "rma"}, "mark": {"type": "line", "strokeWidth": 1.4, "clip": true},
    "encoding": {"x": {"field": "k", "type": "quantitative", "scale": {"domain": [0, 234], "nice": false, "zero": false}, "title": null, "axis": {"values": [3,14.5,26,37.5,49.5,61.5,73,84.5,96,107.5,119,130.5,142,153.5,165,176.5,188,199.5,211,222.5,233.5], "labels": false, "ticks": false, "domain": false, "grid": true}},
     "y": {"field": "v", "type": "quantitative", "scale": {"domain": [6.662, 8.079], "nice": false, "zero": false}, "title": null, "axis": {"orient": "right", "values": [6.7,6.75,6.8,6.85,6.9,6.95,7,7.05,7.1,7.15,7.2,7.25,7.3,7.35,7.4,7.45,7.5,7.55,7.6,7.65,7.7,7.75,7.8,7.85,7.9,7.95,8,8.05], "format": ".3f", "grid": true, "labelOverlap": false, "labelSeparation": -30}},
     "color": {"field": "s", "type": "nominal", "scale": {"domain": ["g","r"], "range": ["#22dd22","#ff1a1a"]}, "legend": null}}},
   {"data": {"name": "rtl"}, "mark": {"type": "line", "color": "#000000", "strokeWidth": 1.2, "clip": true},
    "encoding": {"x": {"field": "k", "type": "quantitative", "scale": {"domain": [0, 234], "nice": false, "zero": false}, "title": null, "axis": {"values": [3,14.5,26,37.5,49.5,61.5,73,84.5,96,107.5,119,130.5,142,153.5,165,176.5,188,199.5,211,222.5,233.5], "labels": false, "ticks": false, "domain": false, "grid": true}},
     "y": {"field": "v", "type": "quantitative", "scale": {"domain": [6.662, 8.079], "nice": false, "zero": false}, "title": null, "axis": {"orient": "right", "values": [6.7,6.75,6.8,6.85,6.9,6.95,7,7.05,7.1,7.15,7.2,7.25,7.3,7.35,7.4,7.45,7.5,7.55,7.6,7.65,7.7,7.75,7.8,7.85,7.9,7.95,8,8.05], "format": ".3f", "grid": true, "labelOverlap": false, "labelSeparation": -30}},
     "detail": {"field": "id", "type": "nominal"}}}
  ]},
  {"width": 390, "height": 53, "data": {"name": "rv"}, "mark": {"type": "bar", "color": "#7db6f0", "width": 2.6, "clip": true},
   "encoding": {"x": {"field": "k", "type": "quantitative", "scale": {"domain": [0, 234], "nice": false, "zero": false}, "title": null, "axis": {"values": [3,14.5,26,37.5,49.5,61.5,73,84.5,96,107.5,119,130.5,142,153.5,165,176.5,188,199.5,211,222.5,233.5], "labels": false, "ticks": false, "domain": false, "grid": true}},
    "y": {"field": "v", "type": "quantitative", "scale": {"domain": [0, 430], "nice": false, "zero": false}, "title": null, "axis": {"orient": "right", "values": [0,100,200,300,400], "labelExpr": "datum.value == 0 ? '0' : datum.value + ' 000'", "grid": true, "labelOverlap": false, "labelSeparation": -30, "labelFontSize": 5.6, "labelPadding": 0, "tickSize": 1}}}},
  {"width": 390, "height": 18, "data": {"name": "rdt"}, "layer": [
   {"mark": {"type": "tick", "orient": "vertical", "color": "#505050", "thickness": 1, "size": 9},
    "encoding": {"x": {"field": "k", "type": "quantitative", "scale": {"domain": [0, 234], "nice": false, "zero": false}, "axis": null},
     "y": {"field": "r", "type": "nominal", "scale": {"type": "band", "domain": ["d","m"], "paddingInner": 0, "paddingOuter": 0}, "axis": {"grid": true, "gridColor": "#505050", "gridDash": [], "labels": false, "ticks": false, "domain": false, "title": null, "bandPosition": 0}}}},
   {"mark": {"type": "text", "align": "left", "baseline": "middle", "dx": 2, "fontSize": 8, "color": "#802020"},
    "encoding": {"x": {"field": "k", "type": "quantitative", "scale": {"domain": [0, 234], "nice": false, "zero": false}, "axis": null},
     "y": {"field": "r", "type": "nominal", "scale": {"type": "band", "domain": ["d","m"], "paddingInner": 0, "paddingOuter": 0}},
     "text": {"field": "t"}}}
  ]}
 ]}
]
}
